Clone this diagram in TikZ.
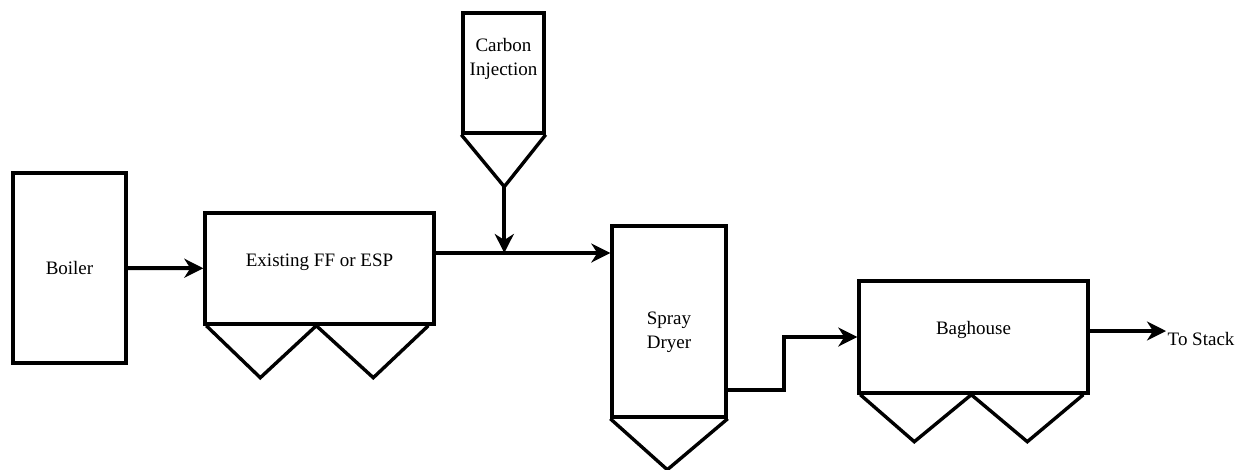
\documentclass[tikz,border=0pt]{standalone}
\usepackage{fontspec}
\setmainfont{Liberation Serif}
\usetikzlibrary{arrows.meta, positioning}

\begin{document}
\begin{tikzpicture}[x=1pt, y=-1pt, >={Stealth[length=19pt, width=19pt, inset=6pt]},
  font=\fontsize{19}{24}\selectfont, line width=3.4pt,
  unit/.style={draw, rectangle, inner sep=0pt, align=center},
  flow/.style={->, line width=4pt}]
  \useasboundingbox (0,0) rectangle (1236,469);
  \node[unit, minimum width=113pt, minimum height=190pt] (boiler) at (69.5,268) {Boiler};
  \node[unit, minimum width=229pt, minimum height=111pt,
    label={[yshift=6pt]center:Existing FF or ESP}] (ff) at (319.5,268.5) {};
  \node[unit, minimum width=81pt, minimum height=120pt,
    label={[yshift=14pt, align=center]center:{Carbon\\Injection}}] (carbon) at (503.5,73) {};
  \node[unit, minimum width=114pt, minimum height=191pt,
    label={[yshift=-11pt, align=center]center:{Spray\\Dryer}}] (spray) at (669,321.5) {};
  \node[unit, minimum width=229pt, minimum height=112pt,
    label={[yshift=7pt]center:Baghouse}] (bag) at (973.5,337) {};
  \node[inner sep=0pt, anchor=west] (stack) at (1166,339) {To Stack};
  % hoppers
  \draw (carbon.south west) -- ++(43,52) coordinate (cbot) -- (carbon.south east);
  \draw (spray.south west) -- ++(57,51) -- (spray.south east);
  \draw ([xshift=3pt]ff.south west) -- ++(54,52) -- ++(56,-52) -- ++(57,52) -- ++(55,-52);
  \draw ([xshift=3pt]bag.south west) -- ++(54,47) -- ++(57,-47) -- ++(56,47) -- ++(56,-47);
  % connectors
  \coordinate (mix) at (cbot |- 0,253);
  \draw[flow] (boiler) -- (ff);
  \draw[flow] (ff.east |- mix) -- (spray.west |- mix);
  \draw[flow] (cbot) -- (mix);
  \draw[flow] ([yshift=-68pt]spray.east) -- ++(56,0) |- (bag.west);
  \draw[flow] ([yshift=6pt]bag.east) -- (stack.west |- 0,331);
\end{tikzpicture}
\end{document}
